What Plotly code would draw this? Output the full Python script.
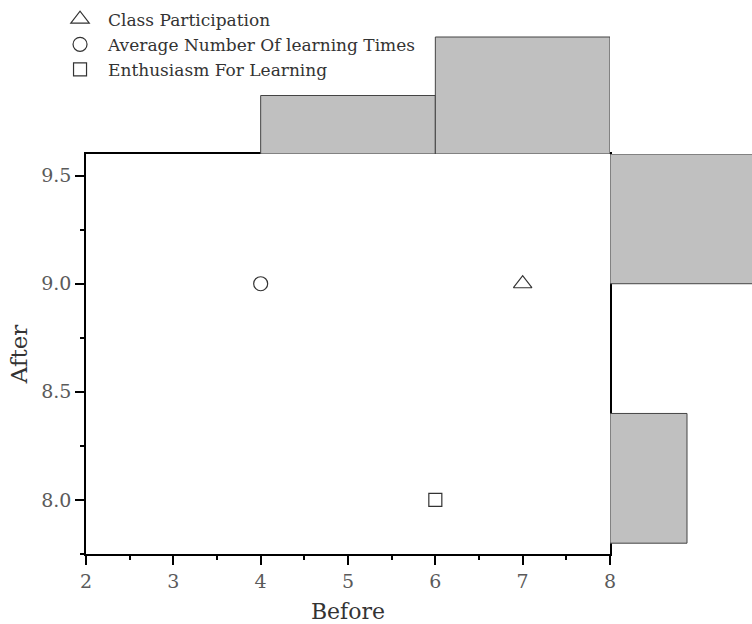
import numpy as np
import plotly.graph_objects as go

# Data
names = ["Class Participation", "Average Number Of learning Times", "Enthusiasm For Learning"]
symbols = ["triangle-up-open", "circle-open", "square-open"]
marker_sizes = [16, 14, 13]
before = [7, 4, 6]
after = [9, 9, 8]

x_edges = [2, 4, 6, 8]
y_edges = [7.8, 8.4, 9.0, 9.6]

x_counts, _ = np.histogram(before, bins=x_edges)
y_counts, _ = np.histogram(after, bins=[7.8, 8.4, 8.99, 9.6])

FONT = "DejaVu Serif"
BAR_FILL = "#c0c0c0"
BAR_LINE = "#444444"

fig = go.Figure()

# top histogram
xc = [(x_edges[i] + x_edges[i + 1]) / 2 for i in range(len(x_counts)) if x_counts[i] > 0]
xw = [x_edges[i + 1] - x_edges[i] for i in range(len(x_counts)) if x_counts[i] > 0]
xv = [int(c) for c in x_counts if c > 0]
fig.add_trace(go.Bar(x=xc, y=xv, width=xw, xaxis="x", yaxis="y2",
                     marker=dict(color=BAR_FILL, line=dict(color=BAR_LINE, width=1)),
                     showlegend=False, hoverinfo="skip"))

# right histogram
yc = [(y_edges[i] + y_edges[i + 1]) / 2 for i in range(len(y_counts)) if y_counts[i] > 0]
yw = [y_edges[i + 1] - y_edges[i] for i in range(len(y_counts)) if y_counts[i] > 0]
yv = [int(c) for c in y_counts if c > 0]
fig.add_trace(go.Bar(y=yc, x=yv, width=yw, orientation="h", xaxis="x3", yaxis="y",
                     marker=dict(color=BAR_FILL, line=dict(color=BAR_LINE, width=1)),
                     showlegend=False, hoverinfo="skip"))

# scatter points
for n, s, ms, bx, ay in zip(names, symbols, marker_sizes, before, after):
    fig.add_trace(go.Scatter(x=[bx], y=[ay], mode="markers", name=n,
                             marker=dict(symbol=s, size=ms, color="#333333",
                                         line=dict(width=1.2, color="#333333")),
                             xaxis="x", yaxis="y"))

W, H = 752, 624
ml, mr, mt, mb = 86, 0, 0, 70
pw = W - ml - mr
ph = H - mt - mb
main_right = (610 - ml) / pw
main_top = (H - mb - 154) / ph

fig.update_layout(
    width=W, height=H,
    margin=dict(l=ml, r=mr, t=mt, b=mb, autoexpand=False),
    paper_bgcolor="white", plot_bgcolor="white",
    font=dict(family=FONT, size=17, color="#444444"),
    barmode="overlay",
    xaxis=dict(domain=[0, main_right], range=[2, 8], dtick=1, tick0=2, automargin=False,
               showline=True, linecolor="black", linewidth=1.5, mirror=True,
               ticks="outside", ticklen=9, tickwidth=1.5, tickcolor="black",
               minor=dict(dtick=0.5, ticks="outside", ticklen=4, tickwidth=1.5, tickcolor="black"),
               showgrid=False, zeroline=False,
               tickfont=dict(family=FONT, size=19, color="#5a5a5a"),
               title=dict(text="Before", font=dict(family=FONT, size=22, color="#333333"), standoff=13)),
    yaxis=dict(domain=[0, main_top], range=[7.75, 9.6], tickvals=[8.0, 8.5, 9.0, 9.5],
               tickformat=".1f", automargin=False,
               showline=True, linecolor="black", linewidth=1.5, mirror=True,
               ticks="outside", ticklen=9, tickwidth=1.5, tickcolor="black",
               minor=dict(tickvals=[7.75, 8.25, 8.75, 9.25], ticks="outside", ticklen=4,
                          tickwidth=1.5, tickcolor="black"),
               showgrid=False, zeroline=False,
               tickfont=dict(family=FONT, size=19, color="#5a5a5a"),
               title=dict(text="After", font=dict(family=FONT, size=23, color="#333333"), standoff=7)),
    yaxis2=dict(domain=[main_top, 1], range=[0, 154 / 58.5], anchor="x",
                showline=False, showticklabels=False, showgrid=False, zeroline=False, ticks=""),
    xaxis3=dict(domain=[main_right, 1], range=[0, 142 / 77], anchor="y",
                showline=False, showticklabels=False, showgrid=False, zeroline=False, ticks=""),
    legend=dict(x=-0.051, y=0.997, xanchor="left", yanchor="top", itemwidth=46,
                bgcolor="rgba(0,0,0,0)", font=dict(family=FONT, size=17, color="#333333"),
                tracegroupgap=0),
)

fig.write_html("out.html", config={"displayModeBar": False},
               post_script="document.body.style.margin='0';document.body.style.overflow='hidden';")
